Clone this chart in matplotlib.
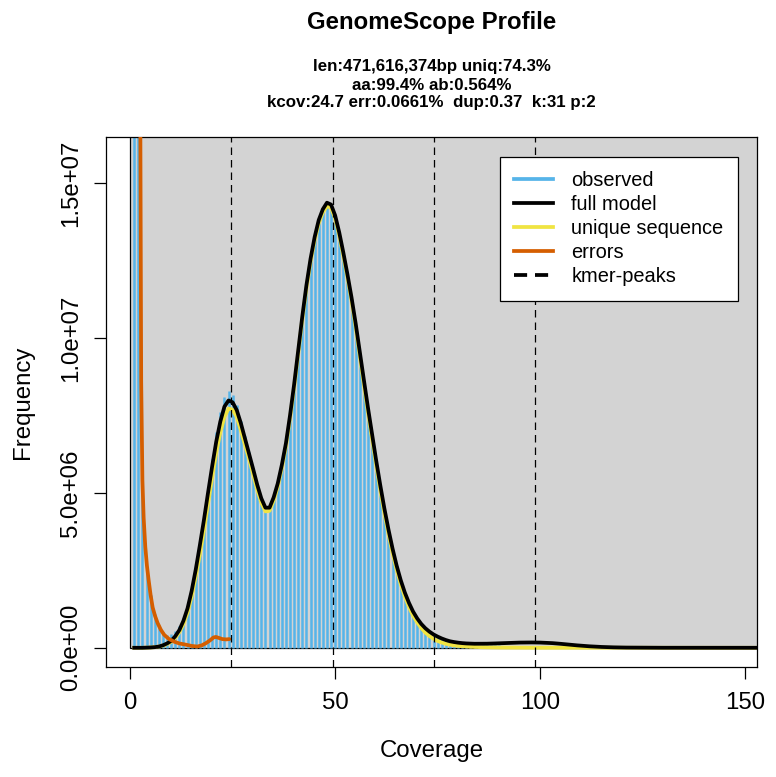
import matplotlib
matplotlib.use("Agg")
import matplotlib.pyplot as plt
from matplotlib.lines import Line2D
from matplotlib.patches import Rectangle
import numpy as np

plt.rcParams["font.family"] = ["Liberation Sans", "DejaVu Sans"]

COLOR_BG = "#D3D3D3"
COLOR_HIST = "#56B4E9"
COLOR_2PEAK = "#F0E442"
COLOR_ERRORS = "#D55E00"

# k-mer coverage 1..155
coverage = np.arange(1, 156)

# observed histogram (millions of k-mers)
observed = [
    160.0, 32.0, 5.4, 2.6, 1.7, 1.1, 0.75, 0.52, 0.42, 0.44,
    0.55, 0.7, 0.97, 1.37, 1.9, 2.58, 3.36, 4.22, 5.15, 6.1,
    6.95, 7.6, 8.08, 8.28, 8.16, 7.82, 7.33, 6.82, 6.32, 5.8,
    5.3, 4.86, 4.56, 4.55, 4.86, 5.3, 5.9, 6.6, 7.5, 8.5,
    9.6, 10.7, 11.7, 12.55, 13.2, 13.75, 14.1, 14.3, 14.25, 13.9,
    13.35, 12.7, 12.0, 11.25, 10.42, 9.5, 8.6, 7.7, 6.85, 6.0,
    5.2, 4.45, 3.78, 3.17, 2.63, 2.17, 1.78, 1.45, 1.18, 0.96,
    0.79, 0.65, 0.54, 0.45, 0.37, 0.31, 0.26, 0.21, 0.17, 0.145,
    0.125, 0.11, 0.1, 0.092, 0.086, 0.082, 0.079, 0.077, 0.075, 0.074,
    0.073, 0.072, 0.072, 0.071, 0.071, 0.07, 0.07, 0.07, 0.069, 0.069,
    0.068, 0.068, 0.067, 0.067, 0.066, 0.066, 0.065, 0.065, 0.064, 0.064,
    0.063, 0.063, 0.062, 0.062, 0.061, 0.061, 0.06, 0.06, 0.059, 0.059,
    0.058, 0.058, 0.057, 0.057, 0.056, 0.056, 0.055, 0.055, 0.054, 0.054,
    0.053, 0.053, 0.052, 0.052, 0.051, 0.051, 0.05, 0.05, 0.049, 0.049,
    0.048, 0.048, 0.047, 0.047, 0.046, 0.046, 0.045, 0.045, 0.044, 0.044,
    0.043, 0.043, 0.042, 0.042, 0.041,
]

# full model
full_model = [
    0.0, 0.0, 0.0, 0.005, 0.01, 0.02, 0.04, 0.08, 0.14, 0.22,
    0.37, 0.57, 0.87, 1.27, 1.83, 2.52, 3.3, 4.12, 5.0, 5.85,
    6.65, 7.3, 7.78, 7.98, 7.92, 7.67, 7.25, 6.76, 6.28, 5.77,
    5.26, 4.82, 4.52, 4.52, 4.85, 5.3, 5.9, 6.6, 7.5, 8.5,
    9.6, 10.7, 11.7, 12.55, 13.25, 13.8, 14.15, 14.36, 14.3, 13.95,
    13.4, 12.75, 12.05, 11.3, 10.47, 9.55, 8.65, 7.75, 6.9, 6.05,
    5.25, 4.5, 3.82, 3.2, 2.65, 2.18, 1.78, 1.45, 1.17, 0.95,
    0.77, 0.63, 0.52, 0.43, 0.36, 0.3, 0.25, 0.21, 0.185, 0.165,
    0.15, 0.14, 0.135, 0.13, 0.13, 0.13, 0.132, 0.135, 0.14, 0.145,
    0.15, 0.155, 0.16, 0.165, 0.168, 0.17, 0.172, 0.172, 0.171, 0.168,
    0.163, 0.157, 0.15, 0.14, 0.128, 0.115, 0.103, 0.09, 0.078, 0.067,
    0.057, 0.048, 0.04, 0.033, 0.027, 0.022, 0.018, 0.014, 0.011, 0.009,
    0.007, 0.006, 0.005, 0.004, 0.003, 0.002, 0.002, 0.001, 0.001, 0.001,
    0.001, 0.001, 0.001, 0.0, 0.0, 0.0, 0.0, 0.0, 0.0, 0.0,
    0.0, 0.0, 0.0, 0.0, 0.0, 0.0, 0.0, 0.0, 0.0, 0.0,
    0.0, 0.0, 0.0, 0.0, 0.0,
]

# unique sequence (2-peak) model
unique_seq = [
    0.0, 0.0, 0.0, 0.005, 0.01, 0.02, 0.04, 0.07, 0.12, 0.19,
    0.32, 0.5, 0.77, 1.13, 1.65, 2.3, 3.0, 3.8, 4.65, 5.5,
    6.3, 6.95, 7.45, 7.72, 7.68, 7.45, 7.02, 6.55, 6.1, 5.6,
    5.1, 4.68, 4.4, 4.42, 4.75, 5.2, 5.8, 6.5, 7.4, 8.4,
    9.5, 10.6, 11.6, 12.45, 13.15, 13.7, 14.05, 14.25, 14.2, 13.85,
    13.3, 12.65, 11.95, 11.2, 10.35, 9.42, 8.5, 7.6, 6.75, 5.9,
    5.1, 4.35, 3.68, 3.06, 2.52, 2.05, 1.65, 1.32, 1.04, 0.82,
    0.64, 0.49, 0.38, 0.29, 0.22, 0.17, 0.13, 0.1, 0.08, 0.06,
    0.05, 0.04, 0.033, 0.027, 0.022, 0.018, 0.015, 0.012, 0.01, 0.008,
    0.007, 0.006, 0.005, 0.004, 0.004, 0.003, 0.003, 0.002, 0.002, 0.002,
    0.001, 0.001, 0.001, 0.001, 0.001, 0.001, 0.001, 0.0, 0.0, 0.0,
    0.0, 0.0, 0.0, 0.0, 0.0, 0.0, 0.0, 0.0, 0.0, 0.0,
    0.0, 0.0, 0.0, 0.0, 0.0, 0.0, 0.0, 0.0, 0.0, 0.0,
    0.0, 0.0, 0.0, 0.0, 0.0, 0.0, 0.0, 0.0, 0.0, 0.0,
    0.0, 0.0, 0.0, 0.0, 0.0, 0.0, 0.0, 0.0, 0.0, 0.0,
    0.0, 0.0, 0.0, 0.0, 0.0,
]

# error k-mers
errors_x = [2.4, 2.5, 2.7, 3.0, 3.3, 3.7, 4.1, 4.5, 5.0, 5.5, 6.1, 6.7, 7.5,
            8.3, 9.4, 10.7, 12.0, 13.6, 15.0, 16.4, 17.5, 18.5, 19.5, 20.3,
            20.9, 21.6, 22.5, 23.4, 24.2]
errors_y = [25.0, 16.7, 8.6, 5.4, 4.2, 3.26, 2.65, 2.2, 1.7, 1.3, 1.02, 0.8, 0.58,
            0.42, 0.29, 0.2, 0.14, 0.1, 0.06, 0.04, 0.08, 0.15, 0.24, 0.33,
            0.35, 0.32, 0.28, 0.27, 0.28]

kmer_peaks = [24.7, 49.4, 74.1, 98.8]

x_ticks = [0, 50, 100, 150]
y_ticks = [0, 5e6, 1e7, 1.5e7]
y_tick_labels = ["0.0e+00", "5.0e+06", "1.0e+07", "1.5e+07"]

title = "GenomeScope Profile"
subtitle = [
    "len:471,616,374bp uniq:74.3%",
    "aa:99.4% ab:0.564%",
    "kcov:24.7 err:0.0661%  dup:0.37  k:31 p:2",
]

W, H = 776, 777
fig = plt.figure(figsize=(W / 100, H / 100), dpi=100)
ax = fig.add_axes([106 / W, 1 - 667 / H, (757 - 106) / W, (667 - 137) / H])
ax.set_xlim(-5.88, 152.88)
ax.set_ylim(-0.62e6, 16.48e6)

M = 1e6
ax.add_patch(Rectangle((0, 0), 1000, 1e9, facecolor=COLOR_BG,
                       edgecolor="black", linewidth=0.9, zorder=0))
ax.vlines(coverage, 0, np.array(observed) * M, color=COLOR_HIST,
          linewidth=1.8, capstyle="butt", zorder=1)
ax.plot(coverage, np.array(unique_seq) * M, color=COLOR_2PEAK, lw=2.7, zorder=2)
ax.plot(coverage, np.array(full_model) * M, color="black", lw=2.7, zorder=3)
ax.plot(errors_x, np.array(errors_y) * M, color=COLOR_ERRORS, lw=2.7,
        zorder=4, solid_capstyle="round")
for p in kmer_peaks:
    ax.axvline(p, color="black", lw=0.9, ls=(0, (6.0, 4.0)), zorder=5)

for s in ax.spines.values():
    s.set_linewidth(0.9)
    s.set_color("black")

ax.set_xticks(x_ticks)
ax.set_xticklabels([str(t) for t in x_ticks])
ax.set_yticks(y_ticks)
ax.set_yticklabels(y_tick_labels, rotation=90, va="center")
ax.tick_params(axis="both", direction="out", length=8.6, width=0.9,
               labelsize=17.3, colors="black")
ax.tick_params(axis="x", pad=9.7)
ax.tick_params(axis="y", pad=8.5)

fig.text(431.5 / W, 1 - 751.5 / H, "Coverage", ha="center", va="center", fontsize=17.3)
fig.text(23 / W, 1 - 402 / H, "Frequency", ha="center", va="center",
         fontsize=17.3, rotation=90)

fig.text(431.5 / W, 1 - 22 / H, title, ha="center", va="center",
         fontsize=17.3, fontweight="bold")
for i, line in enumerate(subtitle):
    fig.text(431.5 / W, 1 - (67 + 18 * i) / H, line, ha="center", va="center",
             fontsize=12.2, fontweight="bold")

handles = [
    Line2D([], [], color=COLOR_HIST, lw=2.7),
    Line2D([], [], color="black", lw=2.7),
    Line2D([], [], color=COLOR_2PEAK, lw=2.7),
    Line2D([], [], color=COLOR_ERRORS, lw=2.7),
    Line2D([], [], color="black", lw=2.7, ls=(0, (3.5, 2.1))),
]
labels = ["observed", "full model", "unique sequence", "errors", "kmer-peaks"]
leg = ax.legend(handles, labels, loc="upper right",
                bbox_to_anchor=((738 - 106) / 651, (667 - 157) / 530),
                fontsize=14.4, frameon=True, fancybox=False, framealpha=1,
                edgecolor="black", borderaxespad=0, borderpad=0.72,
                handlelength=1.95, handletextpad=0.9, labelspacing=0.25)
leg.get_frame().set_linewidth(0.9)
leg.set_zorder(10)

fig.savefig("out.png", dpi=100)
